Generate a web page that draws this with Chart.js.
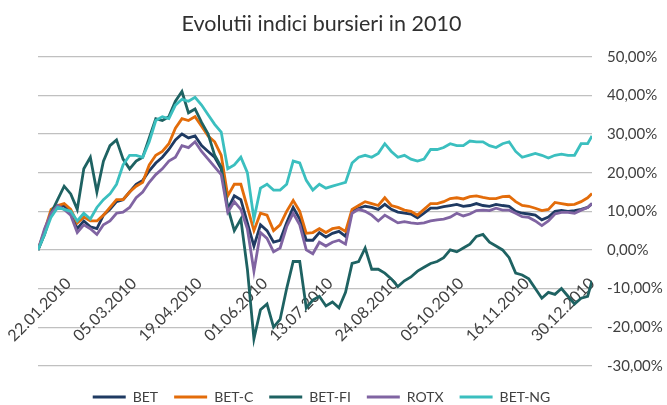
<!DOCTYPE html>
<html>
<head>
<meta charset="utf-8">
<script src="https://cdn.jsdelivr.net/npm/chart.js@4.4.1/dist/chart.umd.min.js"></script>
<style>
    html, body { margin: 0; padding: 0; background: #fff; overflow: hidden; }
    /* canvas a bit bigger than the window: title/legend centre and low legend like the original */
    #wrap { width: 688px; height: 414px; margin-left: -21px; }
</style>
</head>
<body>
<div id="wrap"><canvas id="lineChart"></canvas></div>
<script>
// trading day number (0 = 04.01.2010), sampled every 3rd session
const dayIndex = [0, 3, 6, 9, 12, 15, 18, 21, 24, 27, 30, 33, 36, 39, 42, 45, 48, 51, 54, 57,
    60, 63, 66, 69, 72, 75, 78, 81, 84, 87, 90, 93, 96, 99, 102, 105, 108, 111, 114, 117,
    120, 123, 126, 129, 132, 135, 138, 141, 144, 147, 150, 153, 156, 159, 162, 165, 168, 171, 174, 177,
    180, 183, 186, 189, 192, 195, 198, 201, 204, 207, 210, 213, 216, 219, 222, 225, 228, 231, 234, 237,
    240, 243, 246, 249, 252, 254];

const tickDays = [14, 44, 74, 104, 134, 164, 194, 224, 254];
const tickLabels = ['22.01.2010', '05.03.2010', '19.04.2010', '01.06.2010', '13.07.2010',
    '24.08.2010', '05.10.2010', '16.11.2010', '30.12.2010'];

const seriesNames = ['BET', 'BET-C', 'BET-FI', 'ROTX', 'BET-NG'];
const seriesColors = ['#1f3a62', '#e36c0a', '#1e6262', '#8064a2', '#3bbfbf'];

const bet = [0, 4.5, 9.5, 11, 11.5, 9.5, 5.5, 7.5, 6, 5.5,
    9, 10.5, 12.5, 13, 15, 17, 18, 20.5, 22.5, 24,
    26, 28.5, 30, 29, 29.5, 27, 25.5, 24, 21, 10.5,
    14, 13, 7, 1, 6.5, 5, 2, 2.5, 7, 11,
    8, 2.5, 2.5, 4.5, 3.3, 4.3, 4.8, 3.5, 10, 10.8,
    11.3, 11, 10.5, 11.8, 10.5, 9.8, 9.5, 9.3, 8.3, 9.5,
    10.8, 10.8, 11.2, 11.5, 11.8, 11.3, 11.5, 12, 11.5, 11.3,
    11.8, 11.5, 11.3, 10, 9.5, 9.3, 9, 7.8, 8.5, 10,
    10.2, 10, 10.2, 10.5, 11, 12];

const betC = [0, 5, 10.5, 11.5, 12, 10.5, 7, 8.5, 7.5, 7.5,
    9, 11, 13, 13, 15, 16.5, 17.5, 22, 24.5, 25.5,
    27.5, 31.5, 34, 33.5, 34.5, 32, 29.5, 28, 24.5, 14,
    17, 17, 11, 5, 9.5, 9, 5, 6.5, 10, 12.8,
    10, 4.3, 4.5, 5.5, 4.5, 5.5, 5.8, 4.8, 10.5, 11.5,
    12.5, 12, 11.5, 13.5, 11.5, 11, 10.3, 10, 9, 10.5,
    12, 12, 12.5, 13.3, 13.5, 13.2, 13.8, 14, 13.6, 13.3,
    13.3, 13.8, 13.9, 12.5, 11.5, 11.3, 10.8, 10.2, 10.5, 12.3,
    12, 11.7, 11.8, 12.5, 13.5, 14.6];

const betFI = [0, 4, 9.5, 13, 16.5, 14.5, 10.5, 21, 24, 15,
    23, 27, 28.5, 23.5, 21, 23, 24, 29, 34, 33.5,
    34.5, 38.5, 41, 35.5, 36.5, 33, 30, 24.5, 21.5, 11,
    5, 8, -5, -23, -15.5, -14, -20, -18, -10, -3,
    -3, -15, -13, -12, -14.5, -13.5, -15, -11, -3.5, -3,
    0.5, -5, -5, -6, -7.5, -9.5, -8, -7, -5.5, -4.5,
    -3.5, -3, -2, 0, -0.5, 0.5, 1.5, 3.5, 4, 2,
    1, 0, -2, -6, -6.5, -7.5, -10, -12.5, -11, -11.5,
    -10, -12, -14, -12.5, -12, -8];

const rotx = [0, 5.5, 9.5, 11.5, 10.5, 9, 4.5, 6.5, 5.5, 4,
    6.5, 7.5, 9.5, 9.8, 11, 13.5, 15, 17.5, 19.5, 21,
    23, 24, 27, 26.5, 28, 25.5, 23.5, 21.5, 19.5, 9.8,
    12.5, 10.5, 5.5, -5.5, 4.5, 3, -0.5, 0.5, 6, 9.5,
    6.5, 0, -1, 2, 1, 2, 2.5, 1.5, 9.5, 10.5,
    10, 9, 7.5, 9, 8, 7, 7.3, 7, 6.8, 7,
    7.5, 7.8, 8, 8.5, 9.5, 8.8, 9.3, 10.2, 10.3, 10.2,
    10.8, 10.3, 10.3, 9.5, 8.6, 8.4, 7.5, 6.3, 7.5, 9.3,
    9.7, 9.7, 9.5, 10.3, 11, 12];

const betNG = [0, 4, 8.5, 11, 10.5, 10, 7.5, 9.5, 8, 11,
    13, 14.5, 17, 22, 24.5, 24.5, 24, 28, 33.5, 34.5,
    34, 37.5, 39, 38.5, 39.5, 37.5, 35, 32.5, 30.5, 21,
    22, 24, 20, 8, 16, 17, 15.5, 15.5, 17, 23,
    22.5, 18, 15.5, 17, 16, 16.5, 17, 17.5, 22.5, 24,
    24.5, 24, 25, 27.5, 25.5, 24, 24.5, 23.5, 23, 23.5,
    26, 26, 26.5, 27.5, 27, 27, 28.2, 28, 28, 27,
    26.5, 27.5, 28, 25.5, 24, 24.5, 25, 24.5, 23.8, 24.5,
    24.8, 24.5, 24.5, 27.5, 27.5, 29.5];

const allSeries = [bet, betC, betFI, rotx, betNG];

function toPoints(values) {
    return values.map((v, i) => ({ x: dayIndex[i], y: v }));
}

const datasets = allSeries.map((values, i) => ({
    label: seriesNames[i],
    data: toPoints(values),
    borderColor: seriesColors[i],
    backgroundColor: seriesColors[i],
    borderWidth: 2.8,
    pointRadius: 0,
    tension: 0,
    // later series painted on top, like the original
    order: allSeries.length - i
}));

const ctx = document.getElementById('lineChart').getContext('2d');
const lineChart = new Chart(ctx, {
    type: 'line',
    data: { datasets: datasets },
    options: {
        responsive: true,
        maintainAspectRatio: false,
        animation: false,
        layout: { padding: { left: 0, right: 3, top: 0, bottom: 0 } },
        plugins: {
            title: {
                display: true,
                text: 'Evolutii indici bursieri in 2010',
                color: '#303030',
                font: { family: 'Lato', size: 21.5, weight: 'normal' },
                padding: { top: 11, bottom: 20 }
            },
            legend: {
                position: 'bottom',
                // empty title only used as a spacer above the items
                title: { display: true, text: '', font: { size: 1 }, padding: { top: 0, bottom: 7 } },
                labels: {
                    sort: (a, b) => a.datasetIndex - b.datasetIndex,
                    usePointStyle: true,
                    pointStyle: 'line',
                    pointStyleWidth: 33,
                    boxHeight: 3,
                    color: '#404040',
                    font: { family: 'Lato', size: 14 },
                    padding: 16
                }
            },
            tooltip: { enabled: false }
        },
        scales: {
            x: {
                type: 'linear',
                min: 0,
                max: 254,
                position: { y: 0 },
                afterBuildTicks: axis => { axis.ticks = tickDays.map(v => ({ value: v })); },
                // the rotated dates hang below the zero line, they need no margin
                afterFit: s => {
                    s.paddingLeft = 0;
                    s.paddingRight = 0;
                    s.paddingTop = 0;
                    s.paddingBottom = 0;
                },
                grid: { display: false, drawTicks: false },
                border: { display: false },
                ticks: {
                    autoSkip: false,
                    maxRotation: 45,
                    minRotation: 45,
                    padding: 24,
                    color: '#404040',
                    font: { family: 'Lato', size: 16 },
                    callback: function(value) {
                        const k = tickDays.indexOf(value);
                        return k >= 0 ? tickLabels[k] : '';
                    }
                }
            },
            // empty axis that just keeps the left margin
            yLeft: {
                type: 'linear',
                position: 'left',
                grid: { display: false, drawTicks: false },
                border: { display: false },
                ticks: { display: false },
                afterFit: s => { s.width = 59; }
            },
            y: {
                position: 'right',
                min: -30,
                max: 50,
                grid: { color: '#c0c0c0', lineWidth: 1.3, drawTicks: false },
                border: { display: false },
                afterFit: s => { s.width = 72; },
                ticks: {
                    stepSize: 10,
                    padding: 15,
                    color: '#404040',
                    font: { family: 'Lato', size: 15 },
                    callback: v => v.toFixed(2).replace('.', ',') + '%'
                }
            }
        }
    }
});
</script>
</body>
</html>
